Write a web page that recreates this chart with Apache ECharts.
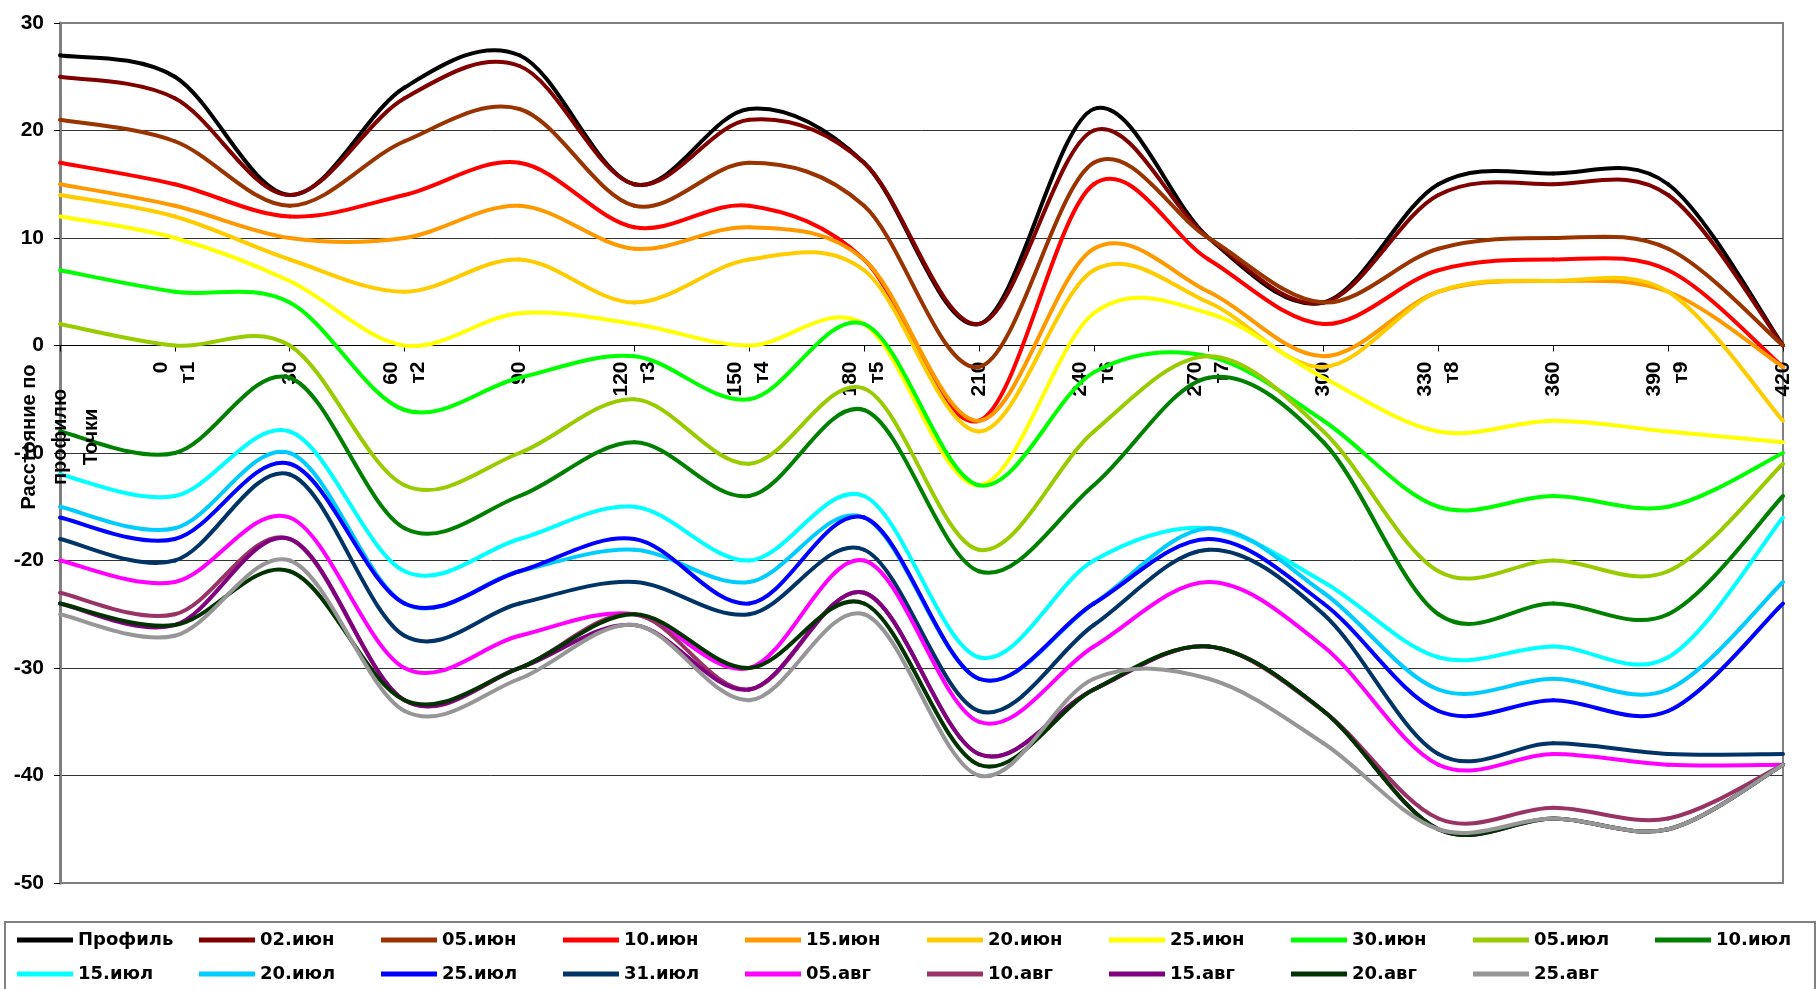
<!DOCTYPE html>
<html>
<head>
<meta charset="utf-8">
<script src="https://cdn.jsdelivr.net/npm/echarts@6/dist/echarts.min.js"></script>
<style>
  html, body { margin: 0; padding: 0; background: #fff; }
  #chart { width: 1820px; height: 989px; }
</style>
</head>
<body>
<div id="chart"></div>
<script>
// точки профиля
const categories = ['', '0\nт1', '30', '60\nт2', '90', '120\nт3', '150\nт4', '180\nт5', '210', '240\nт6', '270\nт7', '300', '330\nт8', '360', '390\nт9', '420'];
const yTicks = [-50, -40, -30, -20, -10, 0, 10, 20, 30];

// замеры по датам
const profil = [27, 25, 14, 24, 27, 15, 22, 17, 2, 22, 10, 4, 15, 16, 15, 0];
const jun02 = [25, 23, 14, 23, 26, 15, 21, 17, 2, 20, 10, 4, 14, 15, 14, 0];
const jun05 = [21, 19, 13, 19, 22, 13, 17, 13, -2, 17, 10, 4, 9, 10, 9, 0];
const jun10 = [17, 15, 12, 14, 17, 11, 13, 8, -7, 15, 8, 2, 7, 8, 7, -2];
const jun15 = [15, 13, 10, 10, 13, 9, 11, 8, -7, 9, 5, -1, 5, 6, 5, -2];
const jun20 = [14, 12, 8, 5, 8, 4, 8, 7, -8, 7, 4, -2, 5, 6, 5, -7];
const jun25 = [12, 10, 6, 0, 3, 2, 0, 2, -13, 3, 3, -3, -8, -7, -8, -9];
const jun30 = [7, 5, 4, -6, -3, -1, -5, 2, -13, -2.5, -1, -7, -15, -14, -15, -10];
const jul05 = [2, 0, 0, -13, -10, -5, -11, -4, -19, -8, -1, -8, -21, -20, -21, -11];
const jul10 = [-8, -10, -3, -17, -14, -9, -14, -6, -21, -13, -3, -9, -25, -24, -25, -14];
const jul15 = [-12, -14, -8, -21, -18, -15, -20, -14, -29, -20, -17, -22, -29, -28, -29, -16];
const jul20 = [-15, -17, -10, -24, -21, -19, -22, -16, -31, -24, -17, -23, -32, -31, -32, -22];
const jul25 = [-16, -18, -11, -24, -21, -18, -24, -16, -31, -24, -18, -24, -34, -33, -34, -24];
const jul31 = [-18, -20, -12, -27, -24, -22, -25, -19, -34, -26, -19, -25, -38, -37, -38, -38];
const aug05 = [-20, -22, -16, -30, -27, -25, -30, -20, -35, -28, -22, -28, -39, -38, -39, -39];
const aug10 = [-23, -25, -18, -33, -30, -25, -32, -23, -38, -32, -28, -34, -44, -43, -44, -39];
const aug15 = [-24, -26, -18, -33, -30, -26, -32, -23, -38, -32, -28, -34, -45, -44, -45, -39];
const aug20 = [-24, -26, -21, -33, -30, -25, -30, -24, -39, -32, -28, -34, -45, -44, -45, -39];
const aug25 = [-25, -27, -20, -34, -31, -26, -33, -25, -40, -31, -31, -37, -45, -44, -45, -39];

const seriesNames = ['Профиль', '02.июн', '05.июн', '10.июн', '15.июн', '20.июн', '25.июн', '30.июн', '05.июл', '10.июл',
  '15.июл', '20.июл', '25.июл', '31.июл', '05.авг', '10.авг', '15.авг', '20.авг', '25.авг'];
const seriesData = [profil, jun02, jun05, jun10, jun15, jun20, jun25, jun30, jul05, jul10,
  jul15, jul20, jul25, jul31, aug05, aug10, aug15, aug20, aug25];
const seriesColors = ['#000000', '#800000', '#993300', '#FF0000', '#FF9900', '#FFCC00', '#FFFF00', '#00FF00', '#99CC00', '#008000',
  '#00FFFF', '#00CCFF', '#0000FF', '#003366', '#FF00FF', '#993366', '#800080', '#003300', '#969696'];

// сглаживание как в Excel (Catmull-Rom), точки берутся через api.coord
function smoothSegment(values) {
  return function(params, api) {
    const i = params.dataIndex;
    if (i >= values.length - 1) return null;
    const pt = function(k) {
      const j = Math.max(0, Math.min(values.length - 1, k));
      return api.coord([j, values[j]]);
    };
    const p0 = pt(i - 1), p1 = pt(i), p2 = pt(i + 1), p3 = pt(i + 2);
    return {
      type: 'bezierCurve',
      shape: {
        x1: p1[0], y1: p1[1],
        x2: p2[0], y2: p2[1],
        cpx1: p1[0] + (p2[0] - p0[0]) / 6, cpy1: p1[1] + (p2[1] - p0[1]) / 6,
        cpx2: p2[0] - (p3[0] - p1[0]) / 6, cpy2: p2[1] - (p3[1] - p1[1]) / 6
      },
      style: { fill: 'none', stroke: api.visual('color'), lineWidth: 4, lineCap: 'round' }
    };
  };
}

document.addEventListener('DOMContentLoaded', function() {
  const chart = echarts.init(document.getElementById('chart'));

  const series = seriesNames.map(function(name, i) {
    return {
      name: name,
      type: 'custom',
      renderItem: smoothSegment(seriesData[i]),
      data: seriesData[i].map(function(v, k) { return [k, v]; }),
      encode: { x: 0, y: 1 },
      itemStyle: { color: seriesColors[i] },
      silent: true
    };
  });

  const option = {
    animation: false,
    backgroundColor: '#fff',
    grid: { left: 60, right: 37, top: 23, bottom: 106, show: true, borderColor: '#808080', borderWidth: 2 },
    xAxis: {
      type: 'category',
      boundaryGap: false,
      data: categories,
      offset: -537.5,
      axisLine: { onZero: false, lineStyle: { color: '#000', width: 1 } },
      axisTick: { show: true, interval: 0, length: 6, lineStyle: { color: '#000' } },
      axisLabel: {
        interval: 0,
        rotate: 90,
        margin: 16,
        color: '#000',
        fontFamily: "'Liberation Sans Narrow', 'Liberation Sans', Arial, sans-serif",
        fontWeight: 'bold',
        fontSize: 21,
        lineHeight: 27
      },
      splitLine: { show: false }
    },
    yAxis: {
      type: 'value',
      min: yTicks[0],
      max: yTicks[yTicks.length - 1],
      interval: 10,
      axisLine: { show: true, lineStyle: { color: '#808080', width: 3 } },
      axisTick: { show: true, length: 6, lineStyle: { color: '#000' } },
      axisLabel: {
        margin: 16,
        color: '#000',
        fontFamily: "'Liberation Sans', Arial, sans-serif",
        fontWeight: 'bold',
        fontSize: 21
      },
      splitLine: {
        show: true,
        lineStyle: { color: ['#808080', '#333', '#333', '#333', '#333', '#333', '#333', '#333', '#808080'], width: 1 }
      }
    },
    legend: {
      data: seriesNames,
      left: 17,
      top: 931,
      width: 1806,
      padding: 0,
      icon: 'rect',
      itemWidth: 56,
      itemHeight: 5,
      itemGap: 16,
      textStyle: {
        fontFamily: "'DejaVu Sans', sans-serif",
        fontWeight: 'bold',
        fontSize: 18,
        color: '#000',
        width: 105,
        overflow: 'none',
        lineHeight: 15
      }
    },
    graphic: [
      {
        type: 'rect',
        silent: true,
        shape: { x: 5, y: 922, width: 1810, height: 80 },
        style: { fill: 'none', stroke: '#808080', lineWidth: 2 }
      },
      {
        type: 'text',
        silent: true,
        z: 100,
        x: 60,
        y: 437,
        rotation: Math.PI / 2,
        style: {
          text: 'Расстояние по\nпрофилю\nТочки',
          fill: '#000',
          font: "bold 20px 'Liberation Sans', Arial, sans-serif",
          lineHeight: 31,
          align: 'center',
          verticalAlign: 'middle'
        }
      }
    ],
    series: series
  };
  chart.setOption(option);

  window.addEventListener('resize', function() {
    chart.resize();
  });
});
</script>
</body>
</html>
